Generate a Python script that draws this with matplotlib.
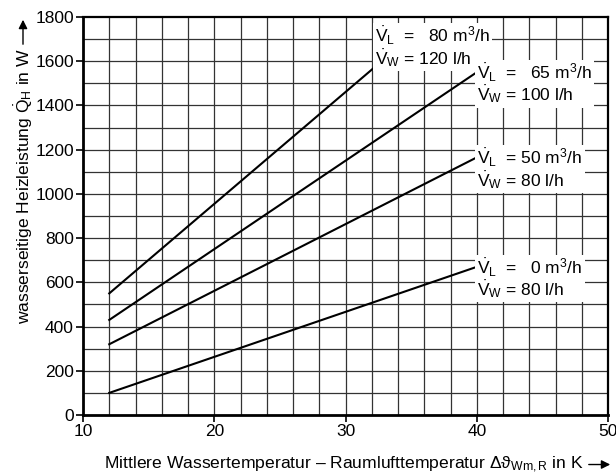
import numpy as np
import matplotlib
matplotlib.use("Agg")
import matplotlib.pyplot as plt
import matplotlib.patches as mpatches

# narrow sans like the original print if there is one, else Arial-like Liberation
plt.rcParams["font.family"] = ["Liberation Sans Narrow", "Liberation Sans", "DejaVu Sans"]
plt.rcParams["mathtext.fontset"] = "custom"
plt.rcParams["mathtext.rm"] = "Liberation Sans"
plt.rcParams["mathtext.it"] = "Liberation Sans:italic"
plt.rcParams["mathtext.default"] = "regular"
plt.rcParams["mathtext.fallback"] = "cm"

# curves: temperature difference in K -> heating power in W
dt_0 = [12, 40]
q_0 = [100, 670]
dt_50 = [12, 40]
q_50 = [320, 1165]
dt_65 = [12, 40]
q_65 = [430, 1550]
dt_80 = [12, 32.2]
q_80 = [550, 1572]

labels = [
    "$\\dot{V}_\\mathrm{L}$  =   0 m$^3$/h\n$\\dot{V}_\\mathrm{W}$ = 80 l/h",
    "$\\dot{V}_\\mathrm{L}$  = 50 m$^3$/h\n$\\dot{V}_\\mathrm{W}$ = 80 l/h",
    "$\\dot{V}_\\mathrm{L}$  =   65 m$^3$/h\n$\\dot{V}_\\mathrm{W}$ = 100 l/h",
    "$\\dot{V}_\\mathrm{L}$  =   80 m$^3$/h\n$\\dot{V}_\\mathrm{W}$ = 120 l/h",
]

x_ticks = [10, 20, 30, 40, 50]
y_ticks = [0, 200, 400, 600, 800, 1000, 1200, 1400, 1600, 1800]

fig = plt.figure(figsize=(6.16, 4.74), dpi=100)
ax = fig.add_axes([83 / 616, 59 / 474, 525 / 616, 398 / 474])

ax.set_xlim(10, 50)
ax.set_ylim(0, 1800)

# fine grid every 2 K and 100 W
for gx in np.arange(12, 50, 2):
    ax.axvline(gx, color="#333333", lw=0.9, zorder=1)
for gy in np.arange(100, 1800, 100):
    ax.axhline(gy, color="#333333", lw=0.9, zorder=1)

curves = [(dt_0, q_0), (dt_50, q_50), (dt_65, q_65), (dt_80, q_80)]
for xs, ys in curves:
    ax.plot(xs, ys, color="black", lw=1.5, zorder=3)

# labels sit at the end of each curve on a white patch
for i, (xs, ys) in enumerate(curves):
    if i == 3:
        # top curve: label box sits above the line end
        ax.text(xs[-1] + 0.05, ys[-1] - 5, labels[i], ha="left", va="bottom",
                fontsize=12.5, linespacing=0.95, zorder=4,
                bbox=dict(facecolor="white", edgecolor="none", pad=1.5))
    else:
        ax.text(xs[-1] + 0.05, ys[-1] + 45, labels[i], ha="left", va="top",
                fontsize=12.5, linespacing=0.95, zorder=5,
                bbox=dict(facecolor="white", edgecolor="none", pad=1.5))

ax.set_xticks(x_ticks)
ax.set_yticks(y_ticks)
ax.tick_params(labelsize=12.5, direction="out", length=5, width=1.2, pad=1.5)

for side in ["left", "bottom"]:
    ax.spines[side].set_linewidth(2)
for side in ["top", "right"]:
    ax.spines[side].set_linewidth(1.6)

# axis titles with arrows, like the printed diagram
fig.text(0.558, 0.02, "Mittlere Wassertemperatur \u2013 Raumlufttemperatur "
         "$\\Delta\\vartheta_\\mathrm{Wm,R}$ in K",
         ha="center", va="center", fontsize=12.6)
fig.text(0.039, 0.607, "wasserseitige Heizleistung $\\dot{Q}_\\mathrm{H}$ in W",
         ha="center", va="center", rotation=90, fontsize=12.6)

fig.patches.append(mpatches.FancyArrowPatch(
    (586 / 616, 0.02), (613 / 616, 0.02), transform=fig.transFigure,
    arrowstyle="-|>", mutation_scale=13, lw=1, color="black"))
fig.patches.append(mpatches.FancyArrowPatch(
    (23 / 616, 1 - 47 / 474), (23 / 616, 1 - 17 / 474), transform=fig.transFigure,
    arrowstyle="-|>", mutation_scale=13, lw=1, color="black"))

fig.savefig("out.png", dpi=100)
